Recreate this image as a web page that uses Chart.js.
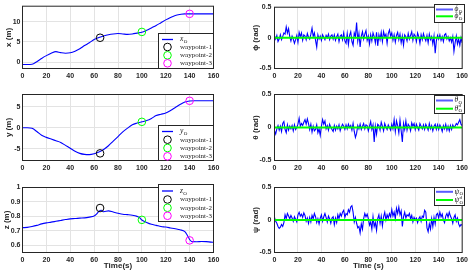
<!DOCTYPE html>
<html><head><meta charset="utf-8">
<script src="https://cdn.jsdelivr.net/npm/chart.js@4.4.0/dist/chart.umd.min.js"></script>
<style>
html,body{margin:0;padding:0;background:#fff;}
#wrap{position:relative;width:471px;height:271px;overflow:hidden;background:#fff}
#wrap canvas{position:absolute;left:0;top:0}
</style></head><body>
<div id="wrap">
<canvas id="cx" width="471" height="271"></canvas>
<canvas id="cy" width="471" height="271"></canvas>
<canvas id="cz" width="471" height="271"></canvas>
<canvas id="cphi" width="471" height="271"></canvas>
<canvas id="ctheta" width="471" height="271"></canvas>
<canvas id="cpsi" width="471" height="271"></canvas>
</div>
<script>
// ---------- data ----------
const timeTicks = [0,20,40,60,80,100,120,140,160];
const xTicks = [0,5,10];
const yTicks = [-5,0,5];
const zTicks = [0.6,0.7,0.8,0.9,1];
const angTicks = [-0.5,0,0.5];

const posTime = [0,4,8,12,16,20,24,28,32,36,40,44,48,52,56,60,64,68,72,76,80,84,88,92,96,100,104,108,112,116,120,124,128,132,136,140,144,148,152,156,160];
const xPos = [-0.6,-0.6,-0.55,0.1,0.9,1.6,2.2,2.6,2.35,2.2,2.3,2.7,3.3,4.1,4.8,5.6,6.1,6.5,6.8,7.0,7.1,7.0,6.9,7.0,7.2,7.4,7.9,8.5,9.1,9.8,10.5,11.1,11.6,11.85,12.0,12.0,12.0,12.0,12.0,12.0,12.0];
const yPos = [0,0,-0.15,-0.9,-1.8,-2.3,-2.7,-3.1,-3.5,-4.2,-4.9,-5.6,-6.1,-6.35,-6.4,-6.2,-5.8,-5.2,-4.3,-3.2,-2.1,-1.0,-0.1,0.7,1.1,1.4,1.7,2.2,2.9,3.2,3.5,4.1,4.8,5.5,6.1,6.35,6.4,6.4,6.4,6.4,6.4];
const zTime = [0,4,8,12,16,20,24,28,32,36,40,44,48,52,56,60,62,64,66,68,72,76,80,84,88,92,96,98,100,104,108,112,116,120,124,128,132,136,138,140,142,146,150,154,158,160];
const zPos = [0.722,0.724,0.73,0.738,0.748,0.755,0.76,0.766,0.772,0.778,0.783,0.785,0.788,0.79,0.795,0.802,0.815,0.835,0.842,0.832,0.838,0.83,0.822,0.815,0.812,0.808,0.8,0.792,0.775,0.758,0.745,0.738,0.73,0.726,0.72,0.714,0.707,0.694,0.67,0.64,0.625,0.624,0.626,0.625,0.622,0.621];

const waypointTime = [65,100,140];
const waypointX = [6.05,7.5,12.0];
const waypointY = [-6.1,1.4,6.4];
const waypointZ = [0.858,0.776,0.634];
const waypointLabels = ['waypoint-1','waypoint-2','waypoint-3'];

const angleTime = [0,1,2,3,4,5,6,7,8,9,10,11,12,13,14,15,16,17,18,19,20,21,22,23,24,25,26,27,28,29,30,31,32,33,34,35,36,37,38,39,40,41,42,43,44,45,46,47,48,49,50,51,52,53,54,55,56,57,58,59,60,61,62,63,64,65,66,67,68,69,70,71,72,73,74,75,76,77,78,79,80,81,82,83,84,85,86,87,88,89,90,91,92,93,94,95,96,97,98,99,100,101,102,103,104,105,106,107,108,109,110,111,112,113,114,115,116,117,118,119,120,121,122,123,124,125,126,127,128,129,130,131,132,133,134,135,136,137,138,139,140,141,142,143,144,145,146,147,148,149,150,151,152,153,154,155,156,157,158,159,160];
const phiO = [0.03,-0.02,0.04,-0.06,-0.02,0.05,-0.03,0.02,0.08,0.06,
 0.18,0.08,0.15,0.02,-0.05,0.03,-0.02,-0.09,-0.03,0.04,
 -0.07,0.09,0.02,0.08,-0.04,0.05,0.03,-0.03,0.07,0.01,
 -0.02,0.06,0.16,0.02,0.08,-0.04,-0.15,0.05,-0.02,0.03,
 -0.04,0.05,0.01,-0.03,0.04,0.0,0.06,-0.03,0.03,0.05,
 -0.02,0.05,-0.04,0.02,0.06,-0.06,0.03,0.05,-0.03,0.08,
 -0.05,-0.09,0.07,-0.11,0.04,0.1,-0.06,-0.12,0.08,0.02,
 0.25,-0.05,0.07,-0.15,0.03,0.1,-0.02,0.06,0.12,-0.04,
 0.03,-0.1,0.05,-0.05,0.08,0.02,-0.08,0.09,-0.13,0.05,
 -0.03,0.09,-0.06,0.1,0.02,0.06,-0.09,0.07,0.13,0.03,
 0.08,-0.04,0.05,-0.07,0.04,0.09,-0.03,0.06,-0.08,0.03,
 -0.12,0.05,0.02,-0.05,0.07,-0.02,0.04,0.1,-0.04,0.06,
 0.03,-0.06,0.08,0.02,-0.09,0.05,-0.03,0.07,0.0,-0.05,
 0.04,-0.08,0.06,-0.03,0.02,-0.1,0.03,-0.25,-0.05,0.04,
 -0.02,0.05,-0.04,0.02,-0.06,0.05,0.07,-0.02,0.02,-0.05,
 0.0,-0.07,0.02,-0.22,-0.08,0.03,-0.1,-0.02,-0.12,0.0,
 -0.08];
const thetaO = [-0.05,-0.1,-0.02,0.03,-0.04,0.02,-0.06,0.06,0.09,-0.03,
 -0.08,0.04,-0.04,0.02,-0.02,0.03,-0.05,0.04,-0.03,0.0,
 0.05,0.14,0.02,0.06,0.03,0.08,0.12,0.05,0.13,0.06,
 -0.03,0.05,-0.07,0.02,-0.05,-0.03,0.04,-0.08,-0.02,-0.12,
 0.02,0.12,0.05,0.1,-0.02,0.03,-0.04,0.05,0.0,-0.03,
 -0.06,0.03,-0.04,0.02,-0.02,0.04,-0.05,0.01,0.05,0.02,
 -0.03,0.04,-0.02,0.05,0.0,0.03,-0.04,0.06,-0.06,-0.15,
 -0.09,0.03,-0.02,0.05,-0.03,0.02,0.06,-0.02,0.04,0.03,
 -0.05,0.02,0.09,-0.03,0.04,-0.22,0.02,-0.1,0.05,0.03,
 -0.04,0.08,0.02,-0.05,0.06,0.01,-0.03,0.04,0.0,-0.04,
 0.05,-0.02,0.12,-0.06,0.1,0.03,-0.08,0.11,-0.05,-0.22,
 0.06,-0.03,0.1,-0.04,0.05,0.02,-0.05,0.07,0.02,0.06,
 -0.03,0.05,0.0,-0.04,0.06,0.02,-0.02,0.04,-0.03,0.05,
 0.01,-0.04,0.06,-0.02,0.03,-0.05,0.02,0.05,-0.03,0.04,
 -0.03,0.04,0.0,-0.06,0.03,-0.02,0.05,-0.04,0.02,-0.05,
 0.03,-0.03,0.04,0.0,0.02,0.06,0.04,0.08,0.12,0.05,
 0.03];
const psiO = [0.04,-0.02,-0.05,-0.1,-0.13,-0.11,-0.07,-0.1,-0.04,0.08,
 0.02,0.1,0.06,0.02,0.07,0.03,-0.02,0.05,0.01,-0.03,
 0.08,0.12,0.06,0.09,0.04,0.11,0.07,-0.02,0.03,-0.05,
 0.04,-0.03,0.07,0.02,0.1,0.05,-0.04,0.02,-0.06,0.03,
 0.08,-0.02,0.05,0.1,0.04,-0.03,0.06,0.02,-0.05,0.03,
 0.05,-0.07,0.03,-0.04,0.08,0.02,0.1,0.06,0.12,0.15,
 0.04,0.1,0.08,0.16,0.12,0.2,0.22,0.12,-0.03,0.04,
 -0.05,-0.12,-0.1,-0.2,-0.06,-0.14,0.02,0.1,0.05,0.09,
 0.02,-0.08,-0.03,-0.14,0.05,-0.1,-0.04,-0.16,0.02,0.08,
 -0.05,0.06,-0.09,0.05,0.12,0.0,0.08,0.03,0.1,0.05,
 0.16,0.06,0.12,0.02,0.18,0.1,0.2,0.08,0.14,-0.1,
 0.05,0.12,0.03,0.08,0.06,0.1,0.02,0.07,-0.03,0.04,
 0.0,0.03,-0.04,0.02,0.05,-0.02,0.06,0.04,0.15,0.12,
 -0.12,-0.18,-0.06,-0.14,0.02,-0.1,0.04,-0.06,0.08,0.1,
 0.03,0.12,0.05,0.09,0.0,-0.04,0.06,0.1,0.04,0.12,
 0.06,0.02,-0.05,0.04,0.08,-0.02,0.03,-0.06,-0.1,-0.07,
 -0.08];
const refTime = [0,160];
const refAngle = [0,0];

// ---------- helpers ----------
const TXT = '#262626';
const pts = (xs, ys) => xs.map((v,i)=>({x:v, y:ys[i]}));

function drawLabel(ctx, x, y, lab){
  ctx.fillStyle = '#1a1a1a';
  ctx.textBaseline = 'middle';
  ctx.textAlign = 'left';
  if (lab.text){
    ctx.font = '7px "Liberation Serif"';
    ctx.fillText(lab.text, x, y);
    return;
  }
  ctx.font = 'italic 7.5px "Liberation Serif"';
  ctx.fillText(lab.base, x, y);
  const w = ctx.measureText(lab.base).width;
  ctx.font = '5px "Liberation Serif"';
  if (lab.sub) ctx.fillText(lab.sub, x + w + 0.3, y + 2.2);
  if (lab.sup) ctx.fillText(lab.sup, x + w + 0.3, y - 2.6);
}

const deco = {
  id: 'deco',
  afterDraw(chart, args, o){
    const ctx = chart.ctx, a = chart.chartArea;
    ctx.save();
    ctx.strokeStyle = '#262626'; ctx.lineWidth = 1;
    ctx.strokeRect(a.left, a.top, a.right - a.left, a.bottom - a.top);
    const L = o.legend;
    if (L){
      ctx.fillStyle = '#fff';
      ctx.fillRect(L.x0, L.y0, L.x1 - L.x0, L.y1 - L.y0);
      ctx.strokeStyle = '#262626'; ctx.lineWidth = 1;
      ctx.strokeRect(L.x0, L.y0, L.x1 - L.x0, L.y1 - L.y0);
      L.rows.forEach(r => {
        ctx.strokeStyle = r.color;
        if (r.kind === 'line'){
          ctx.lineWidth = r.width;
          ctx.beginPath(); ctx.moveTo(L.sx0, r.y); ctx.lineTo(L.sx1, r.y); ctx.stroke();
        } else {
          ctx.lineWidth = 1;
          ctx.beginPath(); ctx.arc(L.cx, r.y, 3.8, 0, Math.PI*2); ctx.stroke();
        }
        drawLabel(ctx, L.tx, r.y, r.label);
      });
    }
    ctx.restore();
  }
};

function makePanel(id, area, yTitle, ticksArr, yMin, yMax, datasets, xTitle, legend){
  const pad = {
    left: area.l - area.wY,
    top: area.t,
    right: 471 - area.r,
    bottom: 271 - area.b - area.hX
  };
  new Chart(document.getElementById(id), {
    type: 'line',
    data: { datasets },
    plugins: [deco],
    options: {
      responsive: false, animation: false, devicePixelRatio: 1,
      layout: { padding: pad, autoPadding: false },
      plugins: { legend: {display:false}, tooltip: {enabled:false}, deco: { legend } },
      elements: { point: { radius: 0 } },
      scales: {
        x: {
          type: 'linear', min: 0, max: 160,
          afterBuildTicks: s => { s.ticks = timeTicks.map(v => ({value:v})); },
          afterFit: s => { s.height = area.hX; },
          grid: { color: '#e3e3e3', drawTicks: false },
          border: { display: false },
          ticks: { padding: 3, color: TXT, font: { family: 'Liberation Sans', size: 7, weight: 'bold' }, maxRotation: 0, autoSkip: false, callback: v => String(v) },
          title: xTitle ? { display: true, text: xTitle, color: TXT, padding: 0, font: { family: 'Liberation Sans', size: 8, weight: 'bold' } } : { display: false }
        },
        y: {
          type: 'linear', min: yMin, max: yMax,
          afterBuildTicks: s => { s.ticks = ticksArr.map(v => ({value:v})); },
          afterFit: s => { s.width = area.wY; },
          grid: { color: '#e3e3e3', drawTicks: false },
          border: { display: false },
          ticks: { padding: area.tp, color: TXT, font: { family: 'Liberation Sans', size: 7, weight: 'bold' }, autoSkip: false, callback: v => String(v) },
          title: { display: true, text: yTitle, color: TXT, padding: 0, font: { family: 'Liberation Sans', size: 8, weight: 'bold' } }
        }
      }
    }
  });
}

function posSets(times, vals, wx, wy){
  return [
    { data: pts(wx.slice(0,1), wy.slice(0,1)), showLine: false, pointRadius: 3.8, pointBorderWidth: 1, pointBorderColor: '#000000', pointBackgroundColor: 'rgba(0,0,0,0)', borderColor: '#000' },
    { data: pts(wx.slice(1,2), wy.slice(1,2)), showLine: false, pointRadius: 3.8, pointBorderWidth: 1, pointBorderColor: '#00ff00', pointBackgroundColor: 'rgba(0,0,0,0)', borderColor: '#00ff00' },
    { data: pts(wx.slice(2,3), wy.slice(2,3)), showLine: false, pointRadius: 3.8, pointBorderWidth: 1, pointBorderColor: '#ff00ff', pointBackgroundColor: 'rgba(0,0,0,0)', borderColor: '#ff00ff' },
    { data: pts(times, vals), borderColor: '#0000ff', borderWidth: 1.1, tension: 0.35, cubicInterpolationMode: 'monotone', pointRadius: 0 }
  ];
}
function angSets(vals){
  return [
    { data: pts(refTime, refAngle), borderColor: '#00ff00', borderWidth: 2, pointRadius: 0 },
    { data: pts(angleTime, vals), borderColor: '#0000ff', borderWidth: 1.1, pointRadius: 0, tension: 0 }
  ];
}
function posLegend(y0, y1, rowsY, baseLabel){
  const colors = ['#000000','#00ff00','#ff00ff'];
  return {
    x0: 158.5, x1: 213.5, y0, y1, sx0: 162, sx1: 173, cx: 167.5, tx: 180,
    rows: [{kind:'line', color:'#0000ff', width:1.3, y: rowsY[0], label: {base: baseLabel, sub:'O'}}]
      .concat(waypointLabels.map((t,i)=>({kind:'circle', color: colors[i], y: rowsY[i+1], label:{text:t}})))
  };
}
function angLegend(y0, y1, rowsY, base){
  return {
    x0: 434.5, x1: 464.5, y0, y1, sx0: 436, sx1: 453, cx: 444, tx: 454.5,
    rows: [
      {kind:'line', color:'#5a5aff', width:2, y: rowsY[0], label:{base, sub:'O'}},
      {kind:'line', color:'#00ff00', width:2, y: rowsY[1], label:{base, sub:'O', sup:'d'}}
    ]
  };
}

const L1 = {l:22.5, r:213.5, wY:18.5, tp:2};
const L3 = {l:22.5, r:213.5, wY:21, tp:2};
const R1 = {l:274.5, r:464.5, wY:24, tp:3};
const row1 = {t:4.5, b:68.5, hX:15};
const row2 = {t:94.5, b:160.5, hX:15};
const row3 = {t:187.5, b:252.5, hX:18};

makePanel('cx', Object.assign({}, L1, row1), 'x (m)', xTicks, -1.6, 13.9, posSets(posTime, xPos, waypointTime, waypointX), null, posLegend(33.5, 68.5, [39.5, 47, 55.3, 63.3], 'x'));
makePanel('cy', Object.assign({}, L1, row2), 'y (m)', yTicks, -7.8, 7.9, posSets(posTime, yPos, waypointTime, waypointY), null, posLegend(125.5, 160.5, [131.5, 139.7, 148, 156.3], 'y'));
makePanel('cz', Object.assign({}, L3, row3), 'z (m)', zTicks, 0.55, 1.0, posSets(zTime, zPos, waypointTime, waypointZ), 'Time(s)', posLegend(184.5, 221.5, [191, 199.5, 207.8, 215.8], 'z'));
makePanel('cphi', Object.assign({}, R1, row1), 'ϕ (rad)', angTicks, -0.5, 0.5, angSets(phiO), null, angLegend(4.5, 22.5, [9.5, 16.3], 'ϕ'));
makePanel('ctheta', Object.assign({}, R1, row2), 'θ (rad)', angTicks, -0.5, 0.5, angSets(thetaO), null, angLegend(95.5, 113.5, [100.5, 108.7], 'θ'));
makePanel('cpsi', Object.assign({}, R1, row3), 'ψ (rad)', angTicks, -0.5, 0.5, angSets(psiO), 'Time (s)', angLegend(187.5, 205.5, [191.8, 200], 'ψ'));
</script>
</body></html>
